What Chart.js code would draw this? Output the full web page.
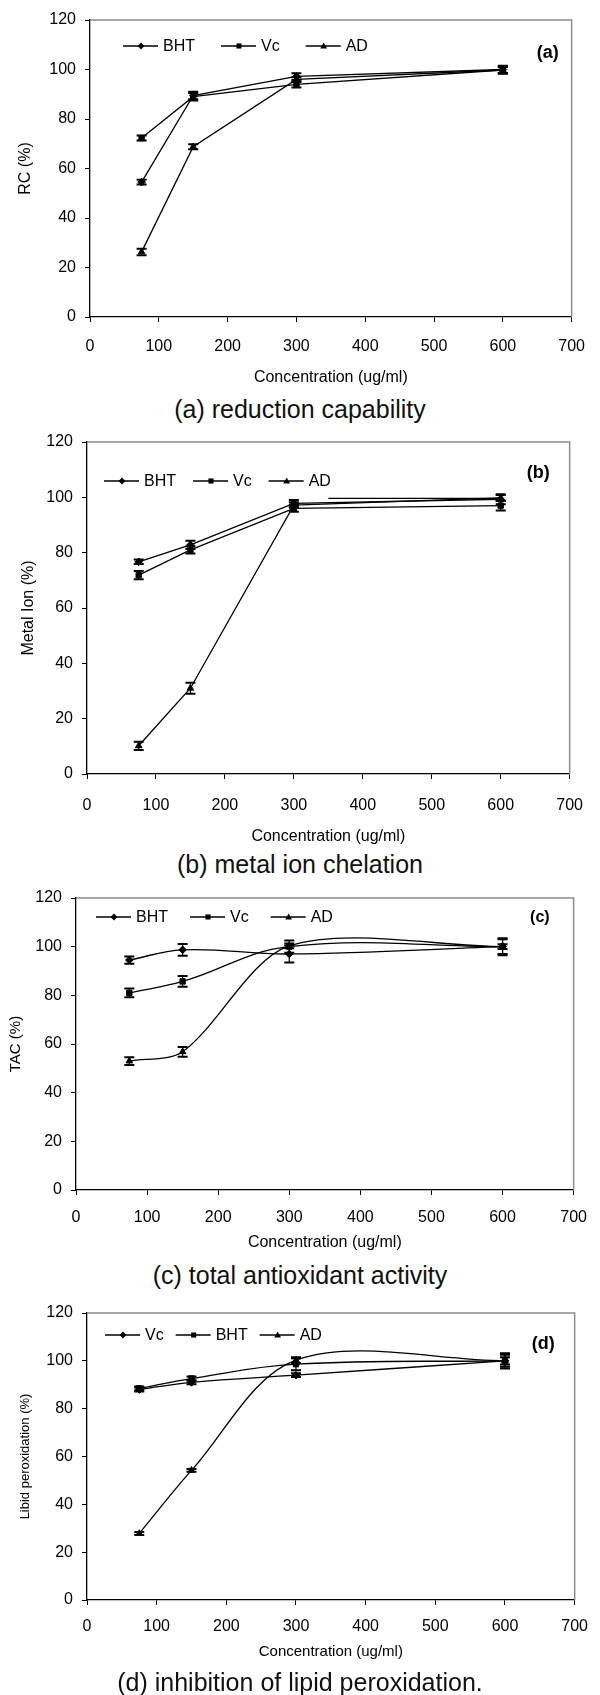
<!doctype html>
<html lang="en">
<head>
  <meta charset="utf-8">
  <title>Antioxidant activity of AD, BHT and Vc</title>
  <style>
    * {
      margin: 0;
      padding: 0;
    }
    body {
      width: 600px;
      height: 1695px;
      position: relative;
      background: white;
      font-family: 'Liberation Sans', Arial, sans-serif;
    }
    .panel {
      position: absolute;
      left: 0;
    }
    .caption {
      position: absolute;
      left: 0;
      width: 600px;
      text-align: center;
      font-size: 25px;
      line-height: 25px;
      color: #111;
    }
  </style>
</head>
<body>
  <canvas class="panel" id="chartA" width="600" height="395" style="top:0px"></canvas>
  <div class="caption" style="top:397px">(a) reduction capability</div>

  <canvas class="panel" id="chartB" width="600" height="430" style="top:420px"></canvas>
  <div class="caption" style="top:852px">(b) metal ion chelation</div>

  <canvas class="panel" id="chartC" width="600" height="390" style="top:870px"></canvas>
  <div class="caption" style="top:1263px">(c) total antioxidant activity</div>

  <canvas class="panel" id="chartD" width="600" height="380" style="top:1290px"></canvas>
  <div class="caption" style="top:1670px">(d) inhibition of lipid peroxidation.</div>

  <script src="https://cdn.jsdelivr.net/npm/chart.js"></script>
  <script>
    // concentrations (ug/ml) used in every panel
    const conc = [75, 150, 300, 600];

    // (a) reduction capability
    const aBHT = [54.5, 89.5, 97.2, 100];
    const aBHTerr = [1.0, 1.5, 1.3, 1.5];
    const aVc = [72.3, 89.0, 94.0, 99.8];
    const aVcErr = [1.0, 1.5, 1.3, 1.5];
    const aAD = [26.3, 68.8, 96.0, 99.8];
    const aADerr = [1.3, 1.0, 1.0, 1.2];

    // (b) metal ion chelation
    const bBHT = [76.7, 82.8, 97.8, 99.3];
    const bBHTerr = [0.8, 1.5, 1.2, 1.8];
    const bVc = [71.9, 81.0, 96.0, 97.0];
    const bVcErr = [1.5, 1.3, 1.2, 1.8];
    const bAD = [10.2, 31.0, 97.2, 99.8];
    const bADerr = [1.5, 2.0, 1.0, 1.0];
    // stray horizontal segment that shows in the original figure
    const bStrayX = [350, 600];
    const bStrayY = [99.6, 99.6];

    // (c) total antioxidant activity
    const cBHT = [94.5, 98.7, 97.0, 100];
    const cBHTerr = [1.5, 2.4, 3.5, 3.5];
    const cVc = [81.0, 85.7, 100.0, 100];
    const cVcErr = [1.8, 2.2, 2.5, 3.0];
    const cAD = [53.0, 56.8, 100.3, 100];
    const cADerr = [1.6, 2.0, 1.0, 1.0];

    // (d) inhibition of lipid peroxidation
    const dVc = [88.0, 91.0, 94.0, 100];
    const dVcErr = [0.8, 0.8, 0.8, 2.5];
    const dBHT = [88.5, 92.6, 98.6, 100];
    const dBHTerr = [0.8, 0.8, 2.5, 3.2];
    const dAD = [27.8, 54.2, 100.3, 100];
    const dADerr = [0.6, 0.6, 1.2, 1.5];

    const sans = "'Liberation Sans', Arial, sans-serif";

    Chart.defaults.font.family = sans;
    Chart.defaults.color = '#000';
    Chart.defaults.animation = false;

    function pts(xs, ys) {
      return xs.map((x, i) => ({x: x, y: ys[i]}));
    }

    function series(label, vals, errs, style, tension) {
      return {
        label: label,
        data: pts(conc, vals),
        errors: errs,
        borderColor: '#000',
        backgroundColor: '#000',
        borderWidth: 1.3,
        pointStyle: style,
        pointRadius: 3.8,
        pointBackgroundColor: '#000',
        pointBorderColor: '#000',
        pointBorderWidth: 1,
        tension: tension,
        fill: false
      };
    }

    function marker(ctx, style, x, y, r) {
      ctx.beginPath();
      if (style === 'rectRot') {
        ctx.moveTo(x, y - r); ctx.lineTo(x + r, y); ctx.lineTo(x, y + r); ctx.lineTo(x - r, y);
      } else if (style === 'rect') {
        const s = r * 0.75;
        ctx.rect(x - s, y - s, 2 * s, 2 * s);
      } else {
        ctx.moveTo(x, y - r); ctx.lineTo(x + r, y + r * 0.7); ctx.lineTo(x - r, y + r * 0.7);
      }
      ctx.closePath();
      ctx.fill();
    }

    // grey top and right frame lines
    const framePlugin = {
      id: 'frame',
      beforeDatasetsDraw(chart) {
        const {ctx, chartArea: a} = chart;
        ctx.save();
        ctx.strokeStyle = '#8c8c8c';
        ctx.lineWidth = 1.5;
        ctx.beginPath();
        ctx.moveTo(a.left, a.top);
        ctx.lineTo(a.right, a.top);
        ctx.lineTo(a.right, a.bottom);
        ctx.stroke();
        ctx.restore();
      }
    };

    // vertical error bars with caps
    const errorBarPlugin = {
      id: 'errorBars',
      afterDatasetsDraw(chart) {
        const {ctx, scales: {x, y}} = chart;
        ctx.save();
        ctx.strokeStyle = '#000';
        chart.data.datasets.forEach(ds => {
          if (!ds.errors) return;
          ds.data.forEach((p, i) => {
            const e = ds.errors[i];
            const px = x.getPixelForValue(p.x);
            const top = y.getPixelForValue(p.y + e);
            const bot = y.getPixelForValue(p.y - e);
            ctx.lineWidth = 1.2;
            ctx.beginPath();
            ctx.moveTo(px, top);
            ctx.lineTo(px, bot);
            ctx.stroke();
            ctx.lineWidth = 2;
            ctx.beginPath();
            ctx.moveTo(px - 5, top);
            ctx.lineTo(px + 5, top);
            ctx.moveTo(px - 5, bot);
            ctx.lineTo(px + 5, bot);
            ctx.stroke();
          });
        });
        ctx.restore();
      }
    };

    // legend in Excel style: line with marker, then the name
    const lineLegendPlugin = {
      id: 'lineLegend',
      afterDraw(chart, args, opts) {
        const {ctx, chartArea: a} = chart;
        let x = a.left + opts.x;
        const y = a.top + opts.y;
        ctx.save();
        ctx.font = opts.size + 'px ' + sans;
        ctx.textBaseline = 'middle';
        ctx.fillStyle = '#000';
        ctx.strokeStyle = '#000';
        ctx.lineWidth = 1.3;
        chart.data.datasets.forEach(ds => {
          if (!ds.label) return;
          ctx.beginPath();
          ctx.moveTo(x, y);
          ctx.lineTo(x + 35, y);
          ctx.stroke();
          marker(ctx, ds.pointStyle, x + 18, y, 3.4);
          ctx.fillText(ds.label, x + 40, y + 1);
          x += 40 + ctx.measureText(ds.label).width + opts.gap;
        });
        ctx.restore();
      }
    };

    // bold (a)/(b)/(c)/(d) tag in the upper right
    const panelTagPlugin = {
      id: 'panelTag',
      afterDraw(chart, args, opts) {
        const {ctx, chartArea: a} = chart;
        ctx.save();
        ctx.font = 'bold ' + opts.size + 'px ' + sans;
        ctx.textAlign = 'right';
        ctx.textBaseline = 'middle';
        ctx.fillStyle = '#000';
        ctx.fillText(opts.text, a.right - opts.right, a.top + opts.y);
        ctx.restore();
      }
    };

    function makeChart(id, p) {
      return new Chart(document.getElementById(id), {
        type: 'line',
        data: {datasets: p.datasets},
        plugins: [framePlugin, errorBarPlugin, lineLegendPlugin, panelTagPlugin],
        options: {
          responsive: false,
          events: [],
          layout: {padding: {top: p.padTop, right: p.padRight, left: 0, bottom: 0}},
          scales: {
            x: {
              type: 'linear',
              min: 0,
              max: 700,
              afterFit: s => { s.height = p.xHeight; },
              ticks: {stepSize: 100, padding: p.xTickPad, color: '#000', font: {size: 16}},
              grid: {display: true, drawOnChartArea: false, drawTicks: true, tickLength: 5, color: '#000'},
              border: {display: true, color: '#000', width: 1.3},
              title: {
                display: true,
                text: 'Concentration (ug/ml)',
                color: '#000',
                font: {size: p.xTitleSize},
                padding: {top: 0, bottom: p.xTitlePad}
              }
            },
            y: {
              type: 'linear',
              min: 0,
              max: 120,
              afterFit: s => { s.width = p.yWidth; },
              ticks: {stepSize: 20, padding: 9, color: '#000', font: {size: 16}},
              grid: {display: true, drawOnChartArea: false, drawTicks: true, tickLength: 5, color: '#000'},
              border: {display: true, color: '#000', width: 1.3},
              title: {
                display: true,
                text: p.yTitle,
                color: '#000',
                font: {size: p.yTitleSize},
                padding: {top: p.yTitlePad, bottom: 0}
              }
            }
          },
          plugins: {
            legend: {display: false},
            tooltip: {enabled: false},
            lineLegend: p.legend,
            panelTag: p.tag
          }
        }
      });
    }

    makeChart('chartA', {
      padTop: 20, padRight: 25, yWidth: 90, xHeight: 78, xTickPad: 15,
      xTitleSize: 16, xTitlePad: 8, yTitle: 'RC (%)', yTitleSize: 16, yTitlePad: 16,
      legend: {x: 33, y: 26, gap: 26, size: 16},
      tag: {text: '(a)', right: 13, y: 33, size: 18},
      datasets: [
        series('BHT', aBHT, aBHTerr, 'rectRot', 0),
        series('Vc', aVc, aVcErr, 'rect', 0),
        series('AD', aAD, aADerr, 'triangle', 0)
      ]
    });

    const stray = {
      label: '',
      data: pts(bStrayX, bStrayY),
      borderColor: '#000',
      borderWidth: 1.3,
      pointRadius: 0,
      tension: 0
    };
    makeChart('chartB', {
      padTop: 22, padRight: 22, yWidth: 87, xHeight: 76, xTickPad: 17,
      xTitleSize: 16, xTitlePad: 4, yTitle: 'Metal Ion (%)', yTitleSize: 16, yTitlePad: 19,
      legend: {x: 17, y: 39, gap: 17, size: 16},
      tag: {text: '(b)', right: 20, y: 31, size: 18},
      datasets: [
        series('BHT', bBHT, bBHTerr, 'rectRot', 0),
        series('Vc', bVc, bVcErr, 'rect', 0),
        series('AD', bAD, bADerr, 'triangle', 0),
        stray
      ]
    });

    makeChart('chartC', {
      padTop: 28, padRight: 11, yWidth: 76, xHeight: 70, xTickPad: 13,
      xTitleSize: 16, xTitlePad: 8, yTitle: 'TAC (%)', yTitleSize: 15, yTitlePad: 7,
      legend: {x: 20, y: 19, gap: 22, size: 16},
      tag: {text: '(c)', right: 24, y: 20, size: 16},
      datasets: [
        series('BHT', cBHT, cBHTerr, 'rectRot', 0.4),
        series('Vc', cVc, cVcErr, 'rect', 0.4),
        series('AD', cAD, cADerr, 'triangle', 0.3)
      ]
    });

    makeChart('chartD', {
      padTop: 23, padRight: 23, yWidth: 87, xHeight: 70, xTickPad: 12,
      xTitleSize: 15, xTitlePad: 9, yTitle: 'Libid peroxidation (%)', yTitleSize: 13, yTitlePad: 18,
      legend: {x: 18, y: 22, gap: 12, size: 16},
      tag: {text: '(d)', right: 20, y: 31, size: 18},
      datasets: [
        series('Vc', dVc, dVcErr, 'rectRot', 0.4),
        series('BHT', dBHT, dBHTerr, 'rect', 0.4),
        series('AD', dAD, dADerr, 'triangle', 0.33)
      ]
    });
  </script>
</body>
</html>
